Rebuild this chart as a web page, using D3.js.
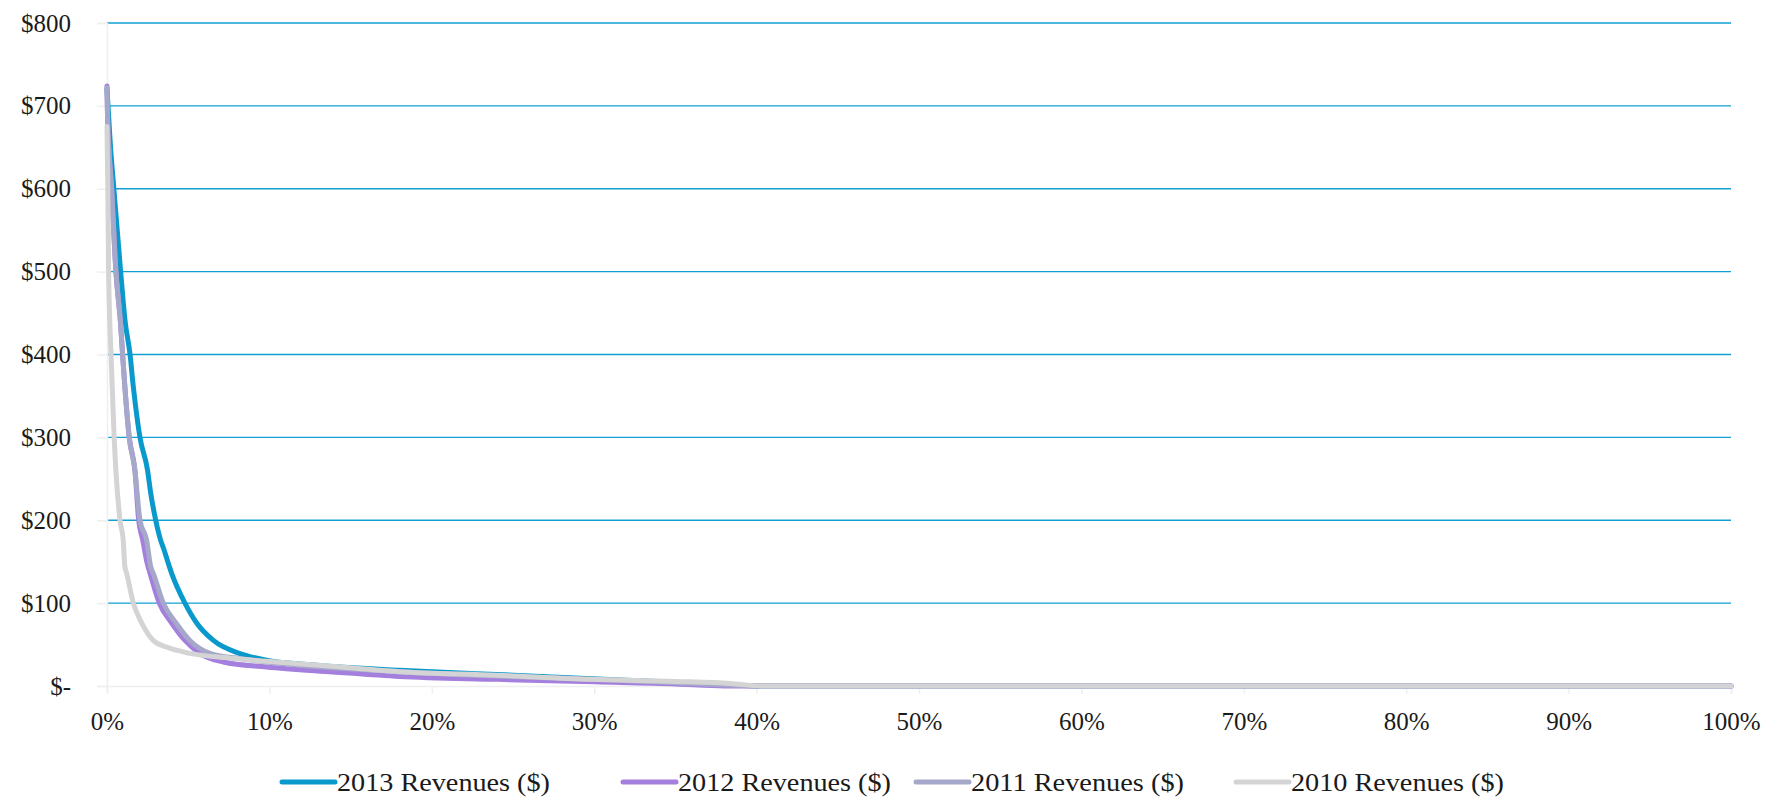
<!DOCTYPE html>
<html>
<head>
<meta charset="utf-8">
<script src="https://cdn.jsdelivr.net/npm/d3@7"></script>
<style>
  html, body { margin: 0; padding: 0; background: #ffffff; }
  svg { display: block; }
  text { font-family: "Liberation Serif", "DejaVu Serif", serif; fill: #1a1a1a; }
</style>
</head>
<body>
<svg id="chart" width="1778" height="807"></svg>
<script>
// ---- data ----
const seriesNames = ["2013 Revenues ($)", "2012 Revenues ($)", "2011 Revenues ($)", "2010 Revenues ($)"];

const pct2013 = [0, 0.2, 0.43, 0.84, 1.11, 1.42, 1.62, 1.87, 2.03, 2.5, 2.69, 3.0, 3.3, 3.5, 3.84, 3.98, 4.8, 5.52, 6.55, 8.19, 9.83, 12.9, 18, 25, 32, 38, 40.5, 100];
const rev2013 = [720, 655, 598, 500, 441, 400, 361, 321, 300, 260, 233, 200, 176, 165, 144, 136, 100, 76, 55, 39, 31, 25, 19, 13, 7, 2, 0, 0];

const pct2012 = [0, 0.03, 0.29, 0.55, 0.84, 0.96, 1.1, 1.37, 1.72, 1.95, 2.2, 2.45, 2.65, 3.22, 3.98, 4.8, 5.73, 7.16, 9.83, 13.9, 18, 24, 30, 35, 38, 100];
const rev2012 = [724, 690, 598, 500, 436, 400, 361, 300, 260, 200, 176, 150, 136, 100, 76, 55, 39, 29, 23, 17, 11.5, 8, 5, 2.5, 0, 0];

const pct2011 = [0, 0.03, 0.29, 0.55, 0.84, 0.96, 1.1, 1.37, 1.72, 2.03, 2.44, 2.69, 2.85, 3.47, 4.25, 5.1, 6.34, 8.19, 11.9, 18, 24, 30, 35, 38.5, 40.3, 100];
const rev2011 = [722, 690, 598, 500, 436, 400, 361, 300, 260, 200, 176, 144, 136, 100, 76, 55, 39.4, 33, 25, 17.3, 12, 8, 4, 1, 0, 0];

const pct2010 = [0, 0.05, 0.1, 0.17, 0.25, 0.44, 0.8, 1.0, 1.1, 1.21, 1.62, 2.14, 2.85, 3.67, 5.1, 7.77, 12.9, 18, 24, 29.7, 35, 38.4, 40.3, 100];
const rev2010 = [675, 600, 500, 441, 400, 300, 200, 176, 144, 136, 100, 76, 55, 47, 39.4, 33.4, 25.3, 17.3, 13, 8, 5.5, 3, 0, 0];

const xTickValues = [0, 10, 20, 30, 40, 50, 60, 70, 80, 90, 100];
const yTickValues = [0, 100, 200, 300, 400, 500, 600, 700, 800];

// ---- styles ----
const colors = ["#0a99cc", "#a47fde", "#a6a8c9", "#d4d4d4"];
const gridColor = "#129fd2";

const svg = d3.select("#chart");
const margin = { left: 107, right: 1778 - 1731, top: 23, bottom: 807 - 686 };
const W = 1778, H = 807;

const x = d3.scaleLinear().domain([0, 100]).range([margin.left, W - margin.right]);
const y = d3.scaleLinear().domain([0, 800]).range([H - margin.bottom, margin.top]);

// gridlines
svg.append("g")
  .selectAll("line")
  .data(yTickValues.filter(d => d > 0))
  .join("line")
  .attr("x1", x(0)).attr("x2", x(100))
  .attr("y1", d => y(d)).attr("y2", d => y(d))
  .attr("stroke", gridColor).attr("stroke-width", 1.4);

// y axis
const yAxis = svg.append("g")
  .attr("transform", `translate(${x(0)},0)`)
  .call(d3.axisLeft(y).tickValues(yTickValues).tickSize(10).tickPadding(26)
    .tickFormat(d => d === 0 ? "$-" : "$" + d));
yAxis.select(".domain").attr("stroke", "#efefef").attr("stroke-width", 1.5);
yAxis.selectAll(".tick line").attr("stroke", "#efefef").attr("stroke-width", 1.5);
yAxis.selectAll(".tick text")
  .style("font-family", '"Liberation Serif", serif')
  .style("font-size", "25px").attr("fill", "#1a1a1a");

// x axis
const xAxis = svg.append("g")
  .attr("transform", `translate(0,${y(0)})`)
  .call(d3.axisBottom(x).tickValues(xTickValues).tickSize(8).tickPadding(18)
    .tickFormat(d => d + "%"));
xAxis.select(".domain").attr("stroke", "#efefef").attr("stroke-width", 1.5);
xAxis.selectAll(".tick line").attr("stroke", "#efefef").attr("stroke-width", 1.5);
xAxis.selectAll(".tick text")
  .style("font-family", '"Liberation Serif", serif')
  .style("font-size", "25px").attr("fill", "#1a1a1a");

// lines
const allPct = [pct2013, pct2012, pct2011, pct2010];
const allRev = [rev2013, rev2012, rev2011, rev2010];
const line = d3.line()
  .x(d => x(d[0])).y(d => y(d[1]))
  .curve(d3.curveMonotoneX);

allPct.forEach((p, i) => {
  const pts = p.map((v, j) => [v, allRev[i][j]]);
  svg.append("path")
    .datum(pts)
    .attr("fill", "none")
    .attr("stroke", colors[i])
    .attr("stroke-width", 5)
    .attr("stroke-linejoin", "round")
    .attr("stroke-linecap", "round")
    .attr("d", line);
});

// legend
const legendX = [282, 623, 916, 1236];
const legendY = 782;
const lg = svg.append("g");
seriesNames.forEach((name, i) => {
  lg.append("line")
    .attr("x1", legendX[i]).attr("x2", legendX[i] + 53)
    .attr("y1", legendY).attr("y2", legendY)
    .attr("stroke", colors[i]).attr("stroke-width", 5)
    .attr("stroke-linecap", "round");
  lg.append("text")
    .attr("x", legendX[i] + 55).attr("y", legendY)
    .attr("dy", "0.35em")
    .attr("textLength", 213)
    .attr("lengthAdjust", "spacingAndGlyphs")
    .style("font-size", "26px")
    .text(name);
});
</script>
</body>
</html>
